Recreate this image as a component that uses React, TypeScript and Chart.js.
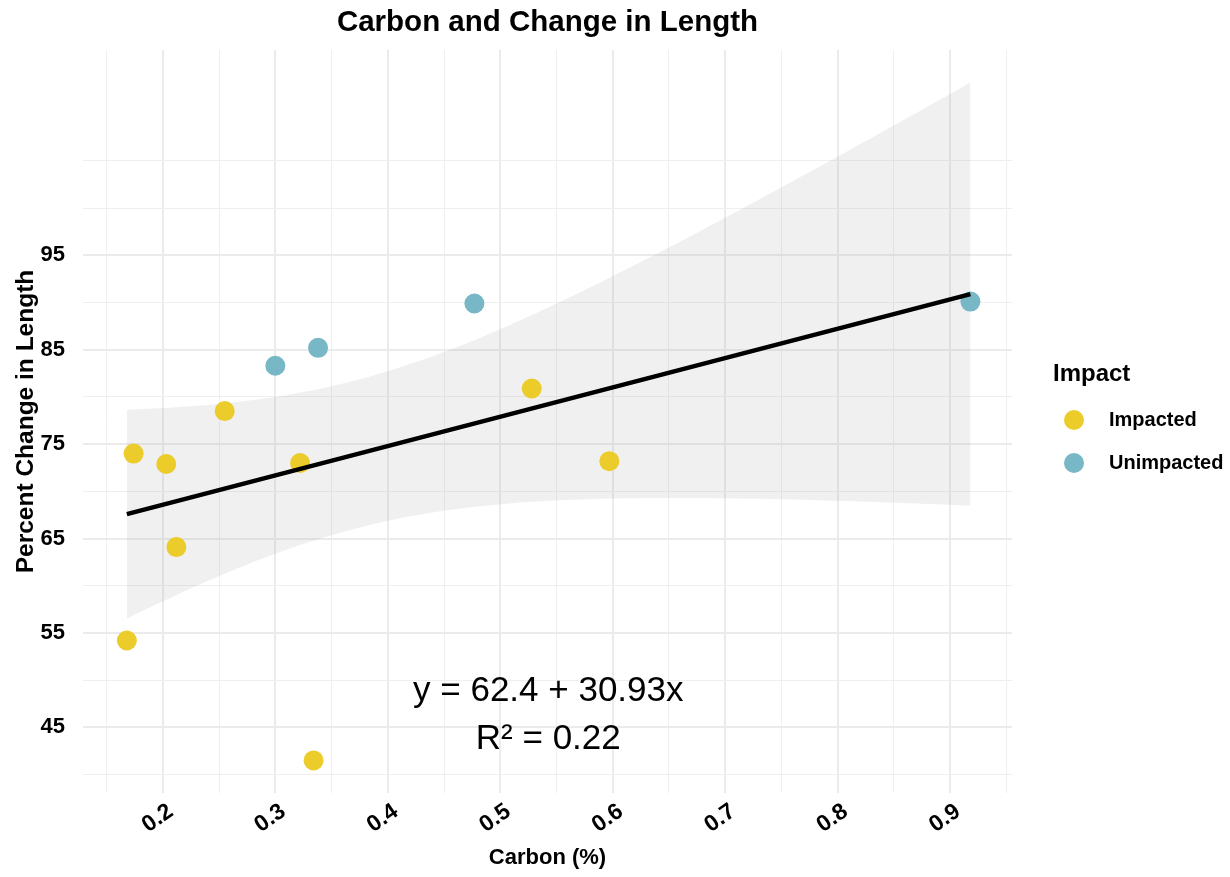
import React, { useEffect, useRef } from 'react';
import { Chart, registerables } from 'chart.js';

Chart.register(...registerables);

// ---- data ----
const impactedCarbon = [0.174, 0.203, 0.212, 0.168, 0.255, 0.322, 0.334, 0.528, 0.597];
const impactedChange = [74.0, 72.9, 64.1, 54.2, 78.5, 73.0, 41.5, 80.9, 73.2];
const unimpactedCarbon = [0.300, 0.338, 0.477, 0.918];
const unimpactedChange = [83.3, 85.2, 89.9, 90.1];

const seriesNames = ['Impacted', 'Unimpacted'];
const seriesColors = ['#EBCC2A', '#78B7C5'];

const xTickLabels = ['0.2', '0.3', '0.4', '0.5', '0.6', '0.7', '0.8', '0.9'];
const xGridValues = [0.15, 0.2, 0.25, 0.3, 0.35, 0.4, 0.45, 0.5, 0.55, 0.6, 0.65, 0.7, 0.75, 0.8, 0.85, 0.9, 0.95];
const yTickLabels = ['45', '55', '65', '75', '85', '95'];
const yGridValues = [40, 45, 50, 55, 60, 65, 70, 75, 80, 85, 90, 95, 100, 105];

const xRange = [0.129, 0.955];
const yRange = [38.05, 116.75];

const chartTitle = 'Carbon and Change in Length';
const xTitle = 'Carbon (%)';
const yTitle = 'Percent Change in Length';
const legendTitle = 'Impact';
const equationLines = ['y = 62.4 + 30.93x', 'R\u00B2 = 0.22'];
const equationX = 0.5427;
const equationY = [48.8, 43.7];

const tCrit = 2.201; // t(0.975, df = 11)
const bandSteps = 80;

const FONT = "'Liberation Sans', Arial, Helvetica, sans-serif";

// ---- linear fit with 95% confidence band (geom_smooth(method = "lm")) ----
function fitBand() {
  const xs = [...impactedCarbon, ...unimpactedCarbon];
  const ys = [...impactedChange, ...unimpactedChange];
  const n = xs.length;
  const mx = xs.reduce((a, b) => a + b, 0) / n;
  const my = ys.reduce((a, b) => a + b, 0) / n;
  let sxx = 0, sxy = 0, syy = 0;
  for (let i = 0; i < n; i++) {
    sxx += (xs[i] - mx) ** 2;
    sxy += (xs[i] - mx) * (ys[i] - my);
    syy += (ys[i] - my) ** 2;
  }
  const slope = sxy / sxx;
  const intercept = my - slope * mx;
  const s = Math.sqrt((syy - slope * sxy) / (n - 2));
  const x0 = Math.min(...xs);
  const x1 = Math.max(...xs);
  const fit: { x: number; y: number }[] = [];
  const upper: { x: number; y: number }[] = [];
  const lower: { x: number; y: number }[] = [];
  for (let i = 0; i <= bandSteps; i++) {
    const x = x0 + ((x1 - x0) * i) / bandSteps;
    const yhat = intercept + slope * x;
    const se = s * Math.sqrt(1 / n + (x - mx) ** 2 / sxx);
    fit.push({ x, y: yhat });
    upper.push({ x, y: yhat + tCrit * se });
    lower.push({ x, y: yhat - tCrit * se });
  }
  return { fit, upper, lower };
}

const near = (a: number, b: number) => Math.abs(a - b) < 1e-6;
const xLabelFor = (v: number) => xTickLabels.find((l) => near(parseFloat(l), v)) ?? '';
const yLabelFor = (v: number) => yTickLabels.find((l) => near(parseFloat(l), v)) ?? '';

const overlayPlugin = {
  id: 'overlayText',
  afterDraw(chart: any) {
    const { ctx, chartArea } = chart;
    const xs = chart.scales.x;
    const ys = chart.scales.y;
    ctx.save();
    ctx.fillStyle = '#000000';
    ctx.textBaseline = 'middle';

    // title
    ctx.textAlign = 'center';
    ctx.font = `bold 29.5px ${FONT}`;
    ctx.fillText(chartTitle, (chartArea.left + chartArea.right) / 2, 23);

    // equation annotation
    ctx.font = `35px ${FONT}`;
    equationLines.forEach((t, i) => {
      ctx.fillText(t, xs.getPixelForValue(equationX), ys.getPixelForValue(equationY[i]));
    });

    // legend
    const lx = chartArea.right + 41;
    ctx.textAlign = 'left';
    ctx.font = `bold 24px ${FONT}`;
    ctx.fillText(legendTitle, lx, 374);
    ctx.font = `bold 20px ${FONT}`;
    seriesNames.forEach((name, i) => {
      const cy = 420 + i * 43;
      ctx.beginPath();
      ctx.fillStyle = seriesColors[i];
      ctx.arc(lx + 21, cy, 10, 0, Math.PI * 2);
      ctx.fill();
      ctx.fillStyle = '#000000';
      ctx.fillText(name, lx + 56, cy);
    });
    ctx.restore();
  },
};

export default function App() {
  const canvasRef = useRef<HTMLCanvasElement | null>(null);

  useEffect(() => {
    if (!canvasRef.current) return;
    const { fit, upper, lower } = fitBand();
    const gridColor = (major: boolean) => (major ? '#ebebeb' : '#efefef');

    const chart = new Chart(canvasRef.current, {
      type: 'scatter',
      data: {
        datasets: [
          {
            label: seriesNames[0],
            data: impactedCarbon.map((x, i) => ({ x, y: impactedChange[i] })),
            backgroundColor: seriesColors[0],
            borderWidth: 0,
            pointRadius: 10,
            order: 2,
          },
          {
            label: seriesNames[1],
            data: unimpactedCarbon.map((x, i) => ({ x, y: unimpactedChange[i] })),
            backgroundColor: seriesColors[1],
            borderWidth: 0,
            pointRadius: 10,
            order: 2,
          },
          {
            type: 'line',
            label: 'band-upper',
            data: upper,
            borderWidth: 0,
            borderColor: 'rgba(0,0,0,0)',
            pointRadius: 0,
            fill: '+1',
            backgroundColor: 'rgba(160,160,160,0.16)',
            order: 3,
          },
          {
            type: 'line',
            label: 'band-lower',
            data: lower,
            borderWidth: 0,
            borderColor: 'rgba(0,0,0,0)',
            pointRadius: 0,
            fill: false,
            order: 3,
          },
          {
            type: 'line',
            label: 'fit',
            data: fit,
            borderColor: '#000000',
            borderWidth: 4.5,
            pointRadius: 0,
            fill: false,
            order: 1,
          },
        ] as any,
      },
      options: {
        animation: false,
        responsive: false,
        layout: { padding: { top: 50, right: 218, bottom: 0, left: 0 } },
        plugins: {
          legend: { display: false },
          tooltip: { enabled: false },
          title: { display: false },
        },
        scales: {
          x: {
            type: 'linear',
            min: xRange[0],
            max: xRange[1],
            afterBuildTicks: (scale: any) => {
              scale.ticks = xGridValues.map((v) => ({ value: v }));
            },
            afterFit: (scale: any) => {
              scale.height = 84;
            },
            grid: {
              drawTicks: false,
              color: (c: any) => gridColor(!!c.tick && xLabelFor(c.tick.value) !== ''),
              lineWidth: (c: any) => (c.tick && xLabelFor(c.tick.value) !== '' ? 2 : 1),
            },
            border: { display: false },
            ticks: {
              autoSkip: false,
              minRotation: 35,
              maxRotation: 35,
              padding: 5,
              labelOffset: 8,
              color: '#000000',
              font: { family: FONT, size: 23, weight: 'bold' },
              callback: (v: any) => xLabelFor(Number(v)),
            },
            title: {
              display: true,
              text: xTitle,
              color: '#000000',
              font: { family: FONT, size: 22, weight: 'bold' },
              padding: { top: 0, bottom: 6 },
            },
          },
          y: {
            type: 'linear',
            min: yRange[0],
            max: yRange[1],
            afterBuildTicks: (scale: any) => {
              scale.ticks = yGridValues.map((v) => ({ value: v }));
            },
            afterFit: (scale: any) => {
              scale.width = 83;
            },
            grid: {
              drawTicks: false,
              color: (c: any) => gridColor(!!c.tick && yLabelFor(c.tick.value) !== ''),
              lineWidth: (c: any) => (c.tick && yLabelFor(c.tick.value) !== '' ? 2 : 1),
            },
            border: { display: false },
            ticks: {
              autoSkip: false,
              padding: 18,
              color: '#000000',
              font: { family: FONT, size: 22, weight: 'bold' },
              callback: (v: any) => yLabelFor(Number(v)),
            },
            title: {
              display: true,
              text: yTitle,
              color: '#000000',
              font: { family: FONT, size: 24.5, weight: 'bold' },
              padding: { top: 12, bottom: 0 },
            },
          },
        },
      } as any,
      plugins: [overlayPlugin],
    });

    return () => chart.destroy();
  }, []);

  return (
    <div style={{ position: 'absolute', left: 0, top: 0, width: 1230, height: 877, background: '#ffffff' }}>
      <canvas ref={canvasRef} width={1230} height={877} style={{ display: 'block' }} />
    </div>
  );
}
